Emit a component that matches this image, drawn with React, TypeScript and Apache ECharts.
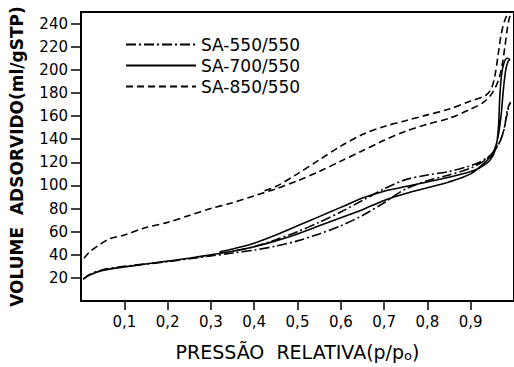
import React, { useEffect, useRef } from "react";
import * as echarts from "echarts";

// ---- data (relative pressure p/p0, adsorbed volume ml/g STP) ----
const SERIES_NAMES = ["SA-550/550", "SA-700/550", "SA-850/550"];

const SA550_ADS_P = [0.005, 0.02, 0.05, 0.1, 0.15, 0.2, 0.25, 0.3, 0.35, 0.4, 0.45, 0.5, 0.55, 0.6, 0.65, 0.7, 0.75, 0.8, 0.85, 0.9, 0.93, 0.95, 0.965, 0.975, 0.982, 0.988, 0.992];
const SA550_ADS_V = [19, 23, 27, 30, 32, 34, 36.5, 39, 41.5, 44, 47.5, 52, 58, 65, 74, 85, 97, 104, 109, 115, 121, 128, 136, 146, 158, 168, 172];
const SA550_DES_P = [0.992, 0.985, 0.978, 0.97, 0.96, 0.945, 0.92, 0.9, 0.85, 0.8, 0.75, 0.7, 0.65, 0.6, 0.55, 0.5, 0.45, 0.4, 0.35];
const SA550_DES_V = [172, 166, 150, 140, 133, 126, 120, 117, 112, 109, 105, 97, 87, 77, 68, 60, 53, 47, 43];

const SA700_ADS_P = [0.005, 0.02, 0.05, 0.1, 0.15, 0.2, 0.25, 0.3, 0.35, 0.4, 0.45, 0.5, 0.55, 0.6, 0.65, 0.7, 0.75, 0.8, 0.85, 0.9, 0.93, 0.95, 0.962, 0.97, 0.976, 0.981, 0.986, 0.99];
const SA700_ADS_V = [19, 22.5, 26.5, 29.5, 32, 34.5, 37, 40, 43, 47, 52, 58, 65, 72, 79, 87, 93, 98, 103, 110, 119, 127, 140, 160, 185, 200, 207, 209];
const SA700_DES_P = [0.99, 0.984, 0.977, 0.971, 0.967, 0.964, 0.958, 0.945, 0.92, 0.9, 0.85, 0.8, 0.75, 0.7, 0.65, 0.6, 0.55, 0.5, 0.45, 0.4, 0.35, 0.32];
const SA700_DES_V = [209, 210, 206, 195, 175, 150, 132, 122, 115, 112, 107, 103, 99, 95, 89, 81, 73, 65, 57, 50, 45, 42.5];

const SA850_ADS_P = [0.007, 0.02, 0.044, 0.067, 0.1, 0.145, 0.2, 0.25, 0.3, 0.35, 0.4, 0.45, 0.5, 0.55, 0.6, 0.65, 0.7, 0.75, 0.8, 0.85, 0.9, 0.93, 0.95, 0.965, 0.973, 0.979, 0.984, 0.988, 0.991];
const SA850_ADS_V = [37, 42.5, 49, 54, 57, 63, 68, 74, 80, 85, 91, 97, 104, 112, 121, 130, 139, 147, 153, 158, 166, 172, 180, 192, 205, 220, 234, 243, 247];
const SA850_DES_P = [0.991, 0.985, 0.978, 0.97, 0.963, 0.956, 0.948, 0.935, 0.9, 0.85, 0.8, 0.75, 0.7, 0.65, 0.6, 0.55, 0.5, 0.45, 0.42];
const SA850_DES_V = [247, 247, 242, 230, 212, 195, 184, 178, 173, 166, 161, 156, 151, 144, 134, 122, 110, 99, 95];

const X_TICKS = [0.1, 0.2, 0.3, 0.4, 0.5, 0.6, 0.7, 0.8, 0.9];
const Y_TICKS = [20, 40, 60, 80, 100, 120, 140, 160, 180, 200, 220, 240];

const X_TITLE = "PRESSÃO  RELATIVA(p/p";
const Y_TITLE = "VOLUME  ADSORVIDO(ml/gSTP)";

function loop(ap: number[], av: number[], dp: number[], dv: number[]) {
  const out: number[][] = [];
  ap.forEach((p, i) => out.push([p, av[i]]));
  dp.forEach((p, i) => out.push([p, dv[i]]));
  return out;
}

const FONT = "DejaVu Sans";

export default function App() {
  const ref = useRef<HTMLDivElement>(null);
  useEffect(() => {
    if (!ref.current) return;
    const chart = echarts.init(ref.current, null, { renderer: "svg" });
    const styles: any[] = [
      { type: [10, 3, 2, 3], width: 1.6 },
      { type: "solid", width: 1.6 },
      { type: [7, 4], width: 1.6 },
    ];
    const datas = [
      loop(SA550_ADS_P, SA550_ADS_V, SA550_DES_P, SA550_DES_V),
      loop(SA700_ADS_P, SA700_ADS_V, SA700_DES_P, SA700_DES_V),
      loop(SA850_ADS_P, SA850_ADS_V, SA850_DES_P, SA850_DES_V),
    ];
    chart.setOption({
      animation: false,
      backgroundColor: "#fff",
      grid: {
        left: 81,
        top: 12,
        bottom: 62,
        right: -3,
        show: true,
        borderColor: "#000",
        borderWidth: 2,
        containLabel: false,
      },
      legend: {
        data: SERIES_NAMES,
        orient: "vertical",
        left: 125,
        top: 36,
        itemWidth: 70,
        itemHeight: 14,
        itemGap: 4,
        padding: 0,
        itemStyle: { opacity: 0 },
        textStyle: { fontFamily: FONT, fontSize: 17, color: "#000" },
      },
      xAxis: {
        type: "value",
        min: 0,
        max: 1,
        interval: 0.1,
        splitLine: { show: false },
        axisLine: { show: true, lineStyle: { color: "#000", width: 2 } },
        axisTick: { show: true, inside: false, customValues: X_TICKS, length: 9, lineStyle: { color: "#000", width: 1.5 } },
        axisLabel: {
          customValues: X_TICKS,
          margin: 13,
          fontFamily: FONT,
          fontSize: 15,
          color: "#000",
          formatter: (v: number) => v.toFixed(1).replace(".", ","),
        },
        name: X_TITLE + "{sub|o})",
        nameLocation: "middle",
        nameGap: 40,
        nameTextStyle: {
          fontFamily: FONT,
          fontSize: 19,
          color: "#000",
          rich: { sub: { fontFamily: FONT, fontSize: 13, color: "#000", verticalAlign: "bottom", padding: [8, 0, 0, 0] } },
        },
      },
      yAxis: {
        type: "value",
        min: 0,
        max: 250,
        splitLine: { show: false },
        axisLine: { show: true, lineStyle: { color: "#000", width: 2 } },
        axisTick: { show: true, inside: false, customValues: Y_TICKS, length: 10, lineStyle: { color: "#000", width: 1.5 } },
        axisLabel: {
          customValues: Y_TICKS,
          margin: 13,
          fontFamily: FONT,
          fontSize: 15,
          color: "#000",
        },
        name: Y_TITLE,
        nameLocation: "middle",
        nameGap: 56,
        nameTextStyle: { fontFamily: FONT, fontSize: 17, fontWeight: "bold", color: "#000" },
      },
      series: SERIES_NAMES.map((name, i) => ({
        name,
        type: "line",
        data: datas[i],
        symbol: "none",
        smooth: 0.3,
        lineStyle: { color: "#000", ...styles[i] },
        itemStyle: { color: "#000" },
      })),
    });
    return () => chart.dispose();
  }, []);
  return <div ref={ref} style={{ width: 514, height: 367, position: "absolute", left: 0, top: 0 }} />;
}
